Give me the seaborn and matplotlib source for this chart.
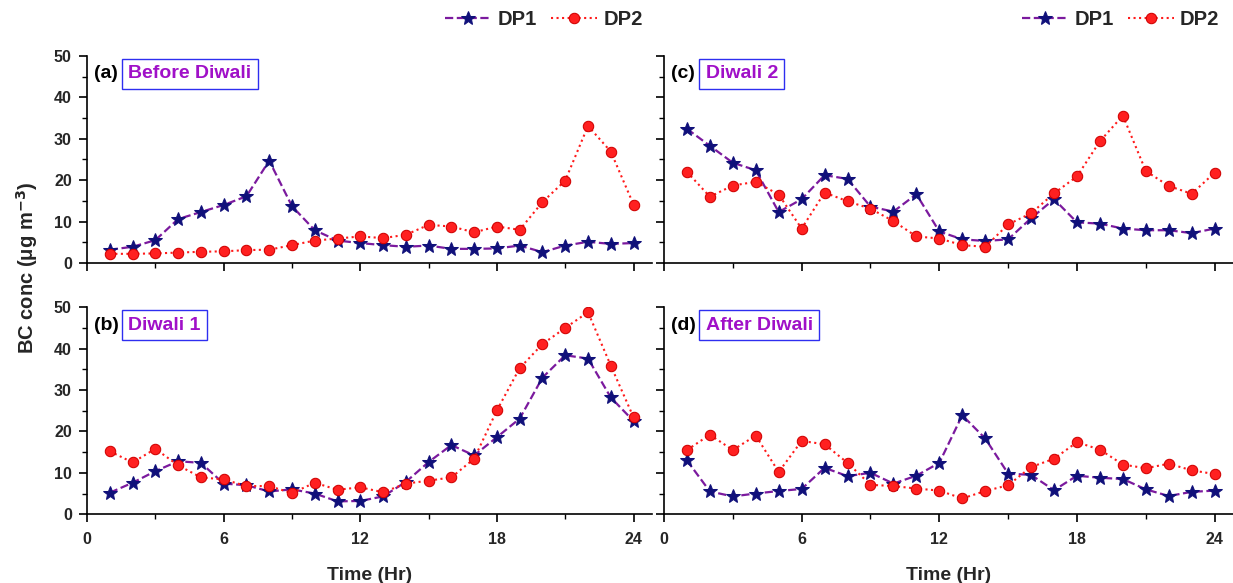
import matplotlib
matplotlib.use("Agg")
import matplotlib.pyplot as plt
import seaborn as sns

hours = list(range(1, 25))

# (a) Before Diwali
before_dp1 = [3.2, 3.9, 5.5, 10.6, 12.3, 14.0, 16.1, 24.7, 13.7, 7.9, 5.4, 4.8,
              4.3, 3.9, 4.2, 3.4, 3.4, 3.5, 4.2, 2.6, 4.2, 5.1, 4.6, 4.8]
before_dp2 = [2.2, 2.2, 2.3, 2.5, 2.7, 2.8, 3.1, 3.2, 4.3, 5.4, 5.9, 6.4,
              6.0, 6.8, 9.2, 8.8, 7.4, 8.8, 8.0, 14.7, 19.9, 33.1, 26.9, 14.1]

# (b) Diwali 1
diwali1_dp1 = [5.2, 7.6, 10.4, 12.8, 12.4, 7.4, 7.0, 5.5, 6.0, 5.0, 3.1, 3.2,
               4.3, 7.8, 12.6, 16.7, 14.2, 18.6, 23.1, 33.0, 38.4, 37.6, 28.2, 22.5]
diwali1_dp2 = [15.2, 12.5, 15.8, 11.8, 8.9, 8.4, 6.8, 6.8, 5.1, 7.6, 5.9, 6.5,
               5.3, 7.4, 8.1, 8.9, 13.4, 25.1, 35.3, 41.1, 45.0, 48.8, 35.9, 23.4]

# (c) Diwali 2
diwali2_dp1 = [32.4, 28.3, 24.2, 22.4, 12.3, 15.4, 21.2, 20.3, 13.6, 12.4, 16.6, 7.6,
               5.7, 5.3, 5.7, 10.8, 15.4, 9.8, 9.5, 8.3, 7.9, 7.9, 7.2, 8.3]
diwali2_dp2 = [22.0, 16.0, 18.7, 19.6, 16.5, 8.3, 17.0, 14.9, 13.1, 10.1, 6.4, 5.9,
               4.3, 3.9, 9.3, 12.0, 16.8, 20.9, 29.4, 35.6, 22.2, 18.6, 16.7, 21.8]

# (d) After Diwali
after_dp1 = [13.0, 5.5, 4.3, 5.0, 5.6, 6.1, 11.2, 9.2, 10.0, 7.4, 9.3, 12.4,
             23.9, 18.3, 9.8, 9.5, 5.8, 9.3, 8.8, 8.5, 6.0, 4.4, 5.4, 5.7]
after_dp2 = [15.5, 19.2, 15.5, 19.0, 10.2, 17.7, 16.9, 12.4, 7.1, 6.8, 6.2, 5.7,
             3.8, 5.6, 7.0, 11.4, 13.4, 17.4, 15.6, 12.0, 11.1, 12.2, 10.6, 9.7]

panels = [
    ("(a)", "Before Diwali", before_dp1, before_dp2),
    ("(b)", "Diwali 1", diwali1_dp1, diwali1_dp2),
    ("(c)", "Diwali 2", diwali2_dp1, diwali2_dp2),
    ("(d)", "After Diwali", after_dp1, after_dp2),
]

sns.set_theme(style="ticks")
plt.rcParams["font.family"] = ["Liberation Sans", "DejaVu Sans"]
plt.rcParams["font.weight"] = "bold"

fig = plt.figure(figsize=(12.33, 5.83), dpi=100)

# axes boxes in figure fractions [left, bottom, width, height]
boxes = [
    [0.0706, 0.549, 0.458, 0.355],
    [0.0706, 0.118, 0.458, 0.355],
    [0.5385, 0.549, 0.4615, 0.355],
    [0.5385, 0.118, 0.4615, 0.355],
]

for i, (tag, name, dp1, dp2) in enumerate(panels):
    ax = fig.add_axes(boxes[i])

    sns.lineplot(x=hours, y=dp1, ax=ax, color="#7B1A9E", linestyle="--",
                 linewidth=1.6, marker="*", markersize=10,
                 markerfacecolor="#10107A", markeredgecolor="#10107A",
                 label="DP1", zorder=3)
    sns.lineplot(x=hours, y=dp2, ax=ax, color="#FF1A1A", linestyle=":",
                 linewidth=1.5, marker="o", markersize=7.5,
                 markerfacecolor="#FF2020", markeredgecolor="#D00000",
                 label="DP2", zorder=4)

    ax.set_xlim(0, 24.8)
    ax.set_ylim(0, 50)
    ax.set_xticks([0, 6, 12, 18, 24])
    ax.set_xticks([3, 9, 15, 21], minor=True)
    ax.set_yticks([0, 10, 20, 30, 40, 50])
    ax.set_yticks([5, 15, 25, 35, 45], minor=True)
    ax.tick_params(which="major", direction="out", length=6, width=1.2,
                   labelsize=11.5, color="black", pad=5)
    ax.tick_params(axis="x", which="major", pad=7)
    ax.tick_params(which="minor", direction="out", length=3.5, width=1.0,
                   color="black")
    for s in ["left", "bottom"]:
        ax.spines[s].set_linewidth(1.2)
        ax.spines[s].set_color("black")
    sns.despine(ax=ax)

    for lab in ax.get_xticklabels() + ax.get_yticklabels():
        lab.set_fontweight("bold")

    if i in (0, 2):
        ax.tick_params(labelbottom=False)
    else:
        ax.set_xlabel("Time (Hr)", fontsize=14, fontweight="bold", labelpad=14)
    if i >= 2:
        ax.tick_params(labelleft=False)
    ax.set_ylabel("")

    ax.text(0.012, 0.955, tag, transform=ax.transAxes, fontsize=14,
            fontweight="bold", va="top", ha="left", color="black")
    ax.text(0.073, 0.955, name, transform=ax.transAxes, fontsize=14,
            fontweight="bold", va="top", ha="left", color="#A010C8",
            bbox=dict(boxstyle="square,pad=0.32", fc="white", ec="#2E2EF0", lw=1.0))

    if i in (0, 2):
        ax.legend(loc="center right", bbox_to_anchor=(0.998 if i == 0 else 0.99, 1.175),
                  ncol=2, frameon=False, fontsize=14.5, handlelength=2.3,
                  columnspacing=0.7, handletextpad=0.3, borderaxespad=0)
    else:
        ax.get_legend().remove()

fig.text(0.022, 0.54, "BC conc (μg m$^{\\mathbf{-3}}$)", rotation=90,
         fontsize=14.5, fontweight="bold", ha="center", va="center")

fig.savefig("out.png", dpi=100, facecolor="white")
